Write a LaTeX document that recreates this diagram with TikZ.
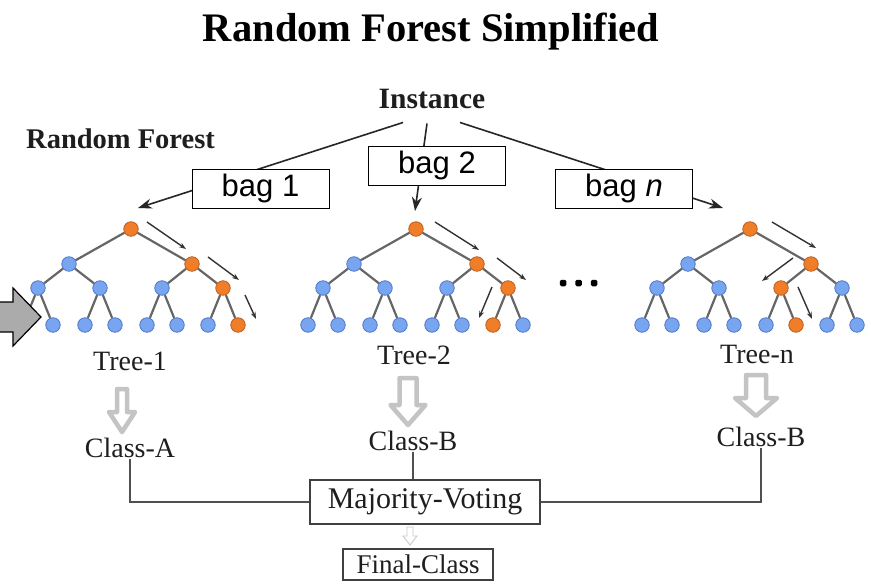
\documentclass[tikz,border=0pt]{standalone}
\usepackage{fontspec}
\setmainfont{Liberation Serif}
\newfontfamily\arialf{Liberation Sans}
\usetikzlibrary{arrows.meta,calc}
\definecolor{nblue}{HTML}{78A5F0}
\definecolor{nblueb}{HTML}{5078C8}
\definecolor{norange}{HTML}{F07D28}
\definecolor{norangeb}{HTML}{BE5F1E}
\definecolor{tedgec}{HTML}{666666}
\definecolor{hollowc}{HTML}{C4C4C4}
\definecolor{bigarr}{HTML}{ABABAB}
\definecolor{txt}{HTML}{1E1E1E}
\definecolor{connc}{HTML}{505050}

\tikzset{
  bnode/.style={circle, draw=nblueb, fill=nblue, line width=0.8pt, minimum size=14.5pt, inner sep=0pt},
  onode/.style={circle, draw=norangeb, fill=norange, line width=0.8pt, minimum size=14.5pt, inner sep=0pt},
  tedge/.style={draw=tedgec, line width=2.2pt},
  toparr/.style={draw=black!85, line width=1.6pt, -{Stealth[length=14pt,width=10pt]}},
  patharr/.style={draw=black!80, line width=1.4pt, -{Stealth[length=7pt,width=5pt]}},
  bagbox/.style={draw=black, line width=1pt, fill=white, minimum width=137pt, minimum height=39pt, inner sep=0pt, font=\arialf\fontsize{31}{36}\selectfont},
  serlab/.style={text=txt, font=\fontsize{28}{33}\selectfont, inner sep=2pt},
  hollow/.style={draw=hollowc, line width=4.5pt, fill=white, line join=round},
  resbox/.style={draw=black!75, line width=1.2pt, fill=white, text=txt, inner sep=0pt},
  conn/.style={draw=connc, line width=1.5pt},
  dotsq/.style={rectangle, fill=black, minimum size=6.5pt, inner sep=0pt, rounded corners=1.5pt}
}

% tree: #1 prefix, #2 root x, #3-#6 ids of the orange path
\newcommand\rftree[6]{%
  \def\rfoa{#3}\def\rfob{#4}\def\rfoc{#5}\def\rfod{#6}%
  \foreach \nid/\dx/\yy in {0/0/229, 1/-62/264, 2/61/264,
      11/-93/288, 12/-31/288, 21/31/288, 22/92/288,
      111/-108/325, 112/-78/325, 121/-46/325, 122/-16/325,
      211/16/325, 212/46/325, 221/77/325, 222/107/325}{%
    \edef\rfcur{\nid}%
    \def\rfsty{bnode}%
    \ifx\rfcur\rfoa\def\rfsty{onode}\fi
    \ifx\rfcur\rfob\def\rfsty{onode}\fi
    \ifx\rfcur\rfoc\def\rfsty{onode}\fi
    \ifx\rfcur\rfod\def\rfsty{onode}\fi
    \edef\rfdo{\noexpand\node[\rfsty] (#1-\nid) at (\the\numexpr#2+\dx\relax,\yy) {};}%
    \rfdo
  }
  \foreach \pa/\ch in {0/1,0/2,1/11,1/12,2/21,2/22,11/111,11/112,12/121,12/122,21/211,21/212,22/221,22/222}{%
    \draw[tedge] (#1-\pa) -- (#1-\ch);
  }
}

% hollow down arrow: #1 cx, #2 top, #3 shaft half, #4 head half, #5 shaft end, #6 tip, #7 style
\newcommand\hdarrow[7]{%
  \draw[#7] (#1-#3,#2) -- (#1+#3,#2) -- (#1+#3,#5) -- (#1+#4,#5) -- (#1,#6) -- (#1-#4,#5) -- (#1-#3,#5) -- cycle;
}

\begin{document}
\begin{tikzpicture}[x=1pt,y=-1pt]
\useasboundingbox (0,0) rectangle (871,584);
\fill[white] (0,0) rectangle (871,584);

% titles
\node[anchor=base, inner sep=0pt, font=\bfseries\fontsize{40.5}{48}\selectfont] (title) at (431,41) {Random Forest Simplified};
\node[anchor=base west, inner sep=0pt, text=txt, font=\bfseries\fontsize{28.5}{33}\selectfont] (rf) at (26,148) {Random Forest};
\node[anchor=base, inner sep=0pt, text=txt, font=\bfseries\fontsize{29.5}{34}\selectfont] (inst) at (432,108) {Instance};

% bagging arrows
\coordinate (e1) at (138,208);
\coordinate (e2) at (415,211);
\coordinate (e3) at (723,208);
\draw[toparr] ($(inst.south)+(-29,14)$) -- (e1);
\draw[toparr] ($(inst.south)+(-5,15)$) -- (e2);
\draw[toparr] ($(inst.south)+(28,14)$) -- (e3);

\node[bagbox] (bag1) at (260.5,188.5) {bag 1};
\node[bagbox] (bag2) at (437,165.5) {bag 2};
\node[bagbox] (bagn) at (624,188.5) {bag \textit{n}};

% trees
\rftree{t1}{131}{0}{2}{22}{222}
\rftree{t2}{416}{0}{2}{22}{221}
\rftree{tn}{750}{0}{2}{21}{212}

% decision path arrows
\draw[patharr] (147,222) -- (186,249);
\draw[patharr] (208,257) -- (239,280);
\draw[patharr] (245,295) -- (256,319);
\draw[patharr] (435,222) -- (479,250);
\draw[patharr] (497,258) -- (526,280);
\draw[patharr] (492,287) -- (479,318);
\draw[patharr] (772,222) -- (816,248);
\draw[patharr] (793,258) -- (762,281);
\draw[patharr] (798,287) -- (812,319);

% dots
\node[dotsq] (d1) at (563,283) {};
\node[dotsq] (d2) at (578.5,283) {};
\node[dotsq] (d3) at (594,283) {};

% big grey arrow on the left
\draw[fill=bigarr, draw=black, line width=1.2pt, line join=miter]
  (-5,302) -- (13,302) -- (13,288) -- (41,317) -- (13,346) -- (13,332) -- (-5,332) -- cycle;

% tree labels
\node[serlab, anchor=base] (tl1) at (130,370) {Tree-1};
\node[serlab, anchor=base] (tl2) at (414,364) {Tree-2};
\node[serlab, anchor=base] (tln) at (757,363) {Tree-n};

% hollow arrows
\hdarrow{122}{389}{5}{13}{412}{432}{hollow}
\hdarrow{408}{378}{8.5}{17.5}{405}{425}{hollow}
\hdarrow{756}{375}{10}{21}{398}{416}{hollow}

% class labels
\node[serlab, anchor=base] (ca) at (130,457) {Class-A};
\node[serlab, anchor=base] (cb) at (413,450) {Class-B};
\node[serlab, anchor=base] (cn) at (761,446) {Class-B};

% voting
\node[resbox, minimum width=230pt, minimum height=44pt, font=\fontsize{30}{35}\selectfont] (mv) at (425,502) {Majority-Voting};
\node[resbox, minimum width=150pt, minimum height=31pt, font=\fontsize{27}{32}\selectfont] (fc) at (418,564.5) {Final-Class};

\draw[conn] (ca.south) |- (mv.west);
\draw[conn] (cb.south) -- (cb.south |- mv.north);
\draw[conn] (cn.south) |- (mv.east);

\hdarrow{410}{527}{3}{7}{536}{545}{draw=hollowc!90, line width=0.9pt, fill=white}
\end{tikzpicture}
\end{document}
